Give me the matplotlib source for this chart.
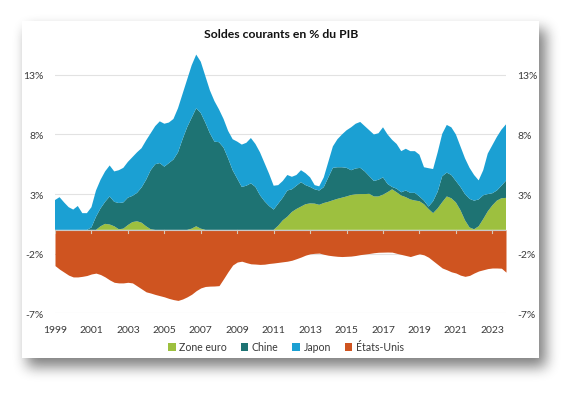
import numpy as np
import matplotlib
matplotlib.use("Agg")
import matplotlib.pyplot as plt
from matplotlib.patches import Rectangle, Patch

plt.rcParams['font.family'] = ['Lato', 'DejaVu Sans']

# ---------------- data (quarterly, 1999Q1 .. 2023Q4) ----------------
quarters = np.arange(1999, 2024, 0.25)

zone_euro = [0, 0, 0, 0,
             0, 0, 0, 0,
             0, 0, 0.3, 0.5,
             0.45, 0.3, 0.05, 0.1,
             0.4, 0.65, 0.72, 0.6,
             0.3, 0.05, 0, 0,
             0, 0, 0, 0,
             0, 0, 0.1, 0.3,
             0.1, 0, 0, 0,
             0, 0, 0, 0,
             0, 0, 0, 0,
             0, 0, 0, 0,
             0, 0.35, 0.8, 1.1,
             1.5, 1.75, 1.95, 2.15,
             2.22, 2.2, 2.1, 2.25,
             2.35, 2.48, 2.6, 2.7,
             2.8, 2.92, 2.98, 3.0,
             3.0, 3.02, 2.8, 2.8,
             2.95, 3.16, 3.4, 3.15,
             2.88, 2.74, 2.55, 2.46,
             2.4, 2.15, 1.75, 1.4,
             1.8, 2.32, 2.8, 2.65,
             2.3, 1.65, 0.8, 0.2,
             0.05, 0.3, 0.9, 1.55,
             2.05, 2.45, 2.65, 2.68]

chine = [0, 0, 0, 0,
         0, 0, 0, 0,
         0.2, 1.1, 1.5, 1.85,
         2.35, 2.05, 2.2, 2.2,
         2.3, 2.2, 2.38, 2.95,
         3.9, 4.95, 5.5, 5.6,
         5.3, 5.6, 5.9, 6.5,
         7.6, 8.6, 9.3, 9.9,
         9.7, 9.0, 8.1, 7.4,
         7.35, 6.9, 6.0, 5.0,
         4.3, 3.6, 3.7, 3.9,
         3.6, 2.9, 2.4, 2.0,
         1.7, 1.85, 1.9, 2.2,
         1.9, 1.95, 2.05, 1.6,
         1.38, 1.2, 1.2, 1.33,
         2.05, 2.72, 2.65, 2.55,
         2.4, 2.08, 2.17, 2.2,
         1.9, 1.48, 1.3, 1.4,
         1.45, 0.69, 0.2, 0.3,
         0.27, 0.56, 0.55, 0.64,
         0.4, 0.3, 0.2, 1.0,
         1.4, 2.18, 2.0, 1.95,
         1.8, 1.95, 2.2, 2.4,
         2.4, 2.25, 2.0, 1.45,
         1.02, 0.85, 1.05, 1.45]

japon = [2.5, 2.74, 2.3, 1.9,
         1.7, 2.0, 1.4, 1.4,
         1.7, 2.2, 2.4, 2.55,
         2.6, 2.55, 2.75, 2.9,
         3.0, 3.25, 3.4, 3.3,
         3.3, 3.1, 3.2, 3.5,
         3.6, 3.4, 3.4, 3.7,
         3.8, 4.0, 4.4, 4.5,
         4.3, 3.9, 3.6, 3.4,
         2.75, 2.4, 2.3, 2.6,
         3.1, 3.55, 3.6, 3.8,
         3.6, 3.6, 3.2, 2.7,
         2.0, 1.55, 1.4, 1.3,
         1.05, 0.9, 1.0, 1.0,
         0.8, 0.35, 0.35, 0.82,
         1.3, 1.8, 2.35, 2.75,
         3.15, 3.6, 3.75, 3.85,
         3.8, 3.85, 3.9, 3.9,
         4.2, 4.15, 3.95, 3.75,
         3.45, 3.5, 3.5, 3.5,
         3.5, 2.8, 3.22, 2.7,
         3.3, 3.55, 4.0, 4.0,
         3.9, 3.4, 3.0, 2.6,
         2.15, 1.6, 2.1, 3.4,
         4.03, 4.5, 4.7, 4.72]

etats_unis = [-3.0, -3.3, -3.55, -3.8,
              -3.95, -3.95, -3.9, -3.83,
              -3.7, -3.63, -3.75, -3.95,
              -4.2, -4.4, -4.45, -4.45,
              -4.4, -4.45, -4.7, -4.95,
              -5.2, -5.3, -5.42, -5.52,
              -5.62, -5.75, -5.85, -5.92,
              -5.8, -5.62, -5.4, -5.1,
              -4.87, -4.75, -4.72, -4.71,
              -4.68, -4.1, -3.5, -2.95,
              -2.7, -2.63, -2.75, -2.85,
              -2.87, -2.9, -2.88, -2.82,
              -2.78, -2.73, -2.68, -2.63,
              -2.55, -2.42, -2.28, -2.12,
              -2.01, -1.97, -1.95, -2.05,
              -2.13, -2.18, -2.22, -2.24,
              -2.22, -2.2, -2.15, -2.08,
              -2.03, -1.98, -1.92, -1.88,
              -1.87, -1.86, -1.87, -1.97,
              -2.06, -2.15, -2.24, -2.12,
              -2.01, -2.1, -2.3, -2.6,
              -2.9, -3.2, -3.35, -3.52,
              -3.62, -3.8, -3.9, -3.82,
              -3.62, -3.45, -3.35, -3.25,
              -3.2, -3.2, -3.22, -3.55]

series_names = ["Zone euro", "Chine", "Japon", "États-Unis"]
y_ticks = [-7, -2, 3, 8, 13]
x_ticks = list(range(1999, 2024, 2))
title = "Soldes courants en % du PIB"

colors = ["#9dc03f", "#1e7373", "#1ba0d3", "#cf5420"]
text_color = "#3a3a3a"

# ---------------- figure ----------------
W, H = 582, 402
fig = plt.figure(figsize=(W / 100, H / 100), dpi=100)
fig.patch.set_facecolor("white")

# background with drop shadow around a white card
bg = fig.add_axes([0, 0, 1, 1], zorder=0)
bg.set_xlim(0, W)
bg.set_ylim(H, 0)
bg.axis("off")
cx0, cy0, cx1, cy1 = 22, 22, 539, 359
mask = np.zeros((H, W))
mask[cy0 + 8:cy1 + 9, cx0 + 5:cx1 + 7] = 1.0


def blur(a, r):
    k = np.ones(2 * r + 1) / (2 * r + 1)
    a = np.apply_along_axis(lambda m: np.convolve(m, k, mode="same"), 1, a)
    a = np.apply_along_axis(lambda m: np.convolve(m, k, mode="same"), 0, a)
    return a


sh = blur(blur(blur(mask, 6), 6), 6)
img = 1 - 0.5 * sh
bg.imshow(img, cmap="gray", vmin=0, vmax=1, extent=(0, W, H, 0), interpolation="bilinear")
bg.add_patch(Rectangle((cx0, cy0), cx1 - cx0, cy1 - cy0, facecolor="white", edgecolor="none"))

# main plot
ax = fig.add_axes([55 / W, (H - 314.3) / H, 451 / W, (314.3 - 52) / H], zorder=2)
ax.patch.set_alpha(0)
ax.set_xlim(quarters[0], quarters[-1])
ax.set_ylim(-7, 15)

ax.set_axisbelow(True)
ax.grid(axis="y", color="#e2e2e2", linewidth=0.8)
ax.grid(axis="x", visible=False)

ax.stackplot(quarters, zone_euro, chine, japon, colors=colors[:3],
             labels=series_names[:3], linewidth=0)
ax.fill_between(quarters, etats_unis, 0, color=colors[3], linewidth=0,
                label=series_names[3])

ax.axhline(0, color="#c8c8c8", linewidth=0.8, zorder=3)
for yr in x_ticks:
    ax.plot([yr, yr], [0, -0.25], color="#d8c8b8", linewidth=0.8, zorder=3)

for s in ax.spines.values():
    s.set_visible(False)

ax.set_yticks(y_ticks)
ax.set_yticklabels([f"{v}%" for v in y_ticks])
ax.set_xticks(x_ticks)
ax.set_xticklabels([str(v) for v in x_ticks])
ax.tick_params(axis="y", length=0, pad=8, labelsize=7.5, labelcolor=text_color,
               labelleft=True, labelright=True)
ax.tick_params(axis="x", length=0, pad=8.5, labelsize=7.5, labelcolor=text_color)

fig.text(281 / W, 1 - 34 / H, title, ha="center", va="center",
         fontsize=8.8, fontweight="bold", color="#111111")

handles = [Patch(facecolor=c, edgecolor="none") for c in colors]
fig.legend(handles, series_names, loc="center", bbox_to_anchor=(286 / W, 1 - 348 / H),
           ncol=4, frameon=False, fontsize=7.6, handlelength=0.7, handleheight=0.7,
           handletextpad=0.35, columnspacing=1.3, labelcolor=text_color)

fig.savefig("out.png", dpi=100, facecolor="white")
